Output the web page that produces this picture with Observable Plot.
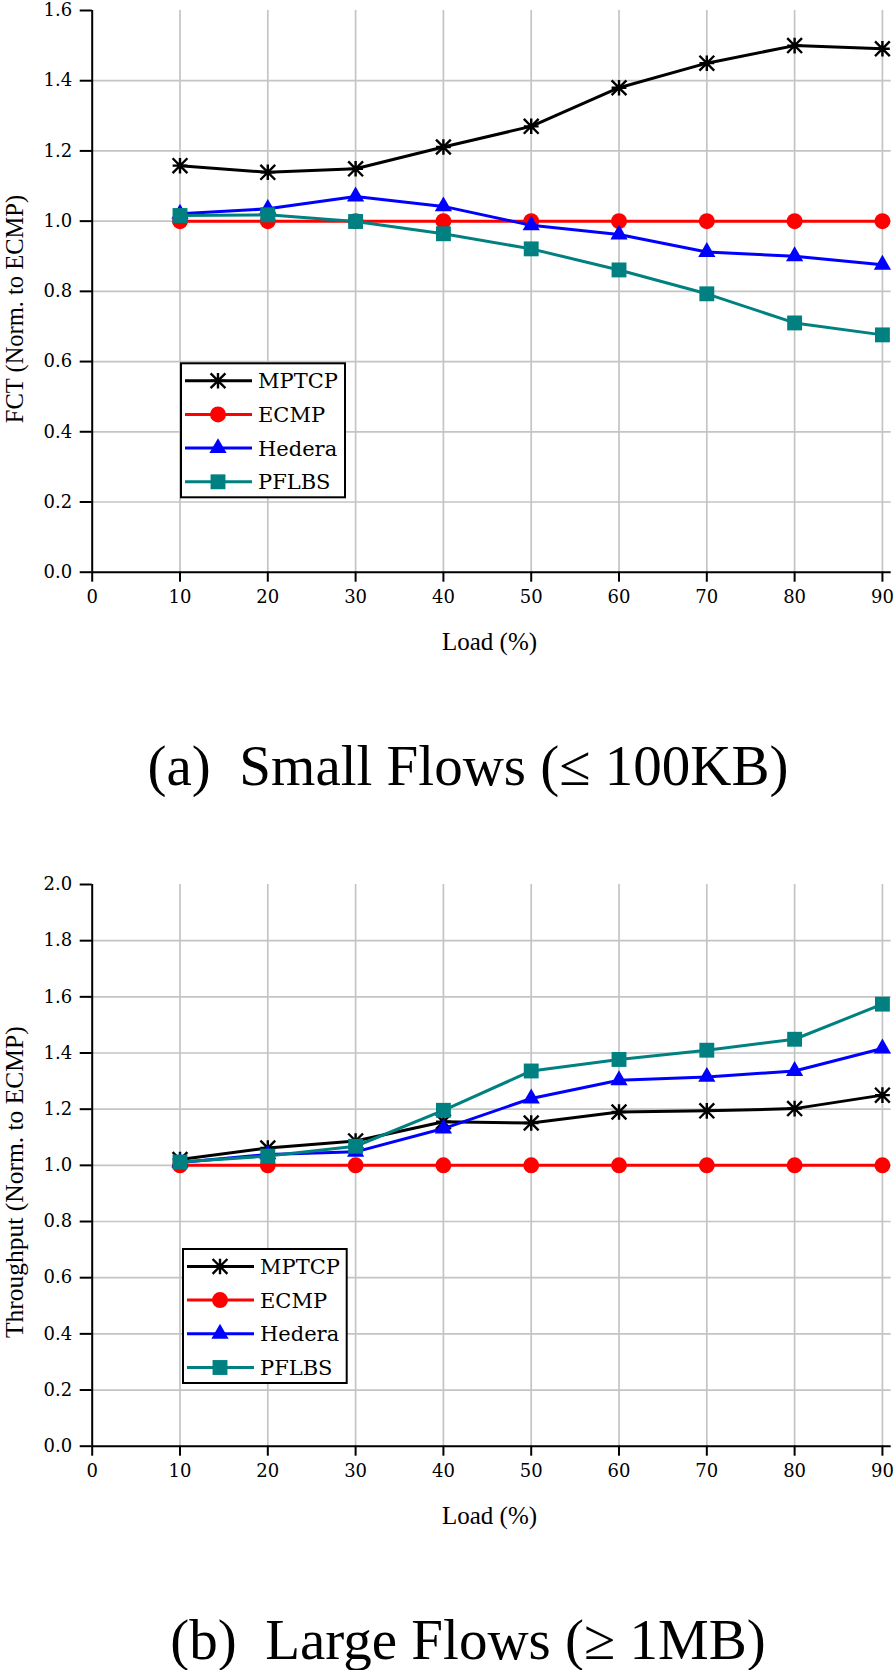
<!DOCTYPE html>
<html><head><meta charset="utf-8">
<script src="https://cdn.jsdelivr.net/npm/d3@7"></script>
<script src="https://cdn.jsdelivr.net/npm/@observablehq/plot@0.6"></script>
<style>
body{margin:0;background:#fff;}
#wrap{position:relative;width:894px;height:1670px;overflow:hidden;background:#fff;}
#wrap svg{position:absolute;left:0;}
</style></head><body><div id="wrap"></div>
<script>
const loads = [10, 20, 30, 40, 50, 60, 70, 80, 90];
const seriesNames = ["MPTCP", "ECMP", "Hedera", "PFLBS"];
const seriesColors = ["#000000", "#ff0000", "#0000ff", "#008080"];
const seriesSymbols = ["star", "circle", "triangle", "square"];

// (a) FCT normalized to ECMP
const fctMPTCP  = [1.158, 1.139, 1.149, 1.211, 1.270, 1.380, 1.450, 1.500, 1.491];
const fctECMP   = [1.0, 1.0, 1.0, 1.0, 1.0, 1.0, 1.0, 1.0, 1.0];
const fctHedera = [1.021, 1.035, 1.070, 1.042, 0.988, 0.962, 0.912, 0.900, 0.876];
const fctPFLBS  = [1.016, 1.018, 0.999, 0.964, 0.921, 0.861, 0.793, 0.710, 0.676];

// (b) Throughput normalized to ECMP
const tpMPTCP  = [1.021, 1.062, 1.087, 1.155, 1.151, 1.190, 1.194, 1.202, 1.250];
const tpECMP   = [1.0, 1.0, 1.0, 1.0, 1.0, 1.0, 1.0, 1.0, 1.0];
const tpHedera = [1.010, 1.039, 1.048, 1.131, 1.238, 1.303, 1.315, 1.336, 1.416];
const tpPFLBS  = [1.012, 1.033, 1.068, 1.196, 1.336, 1.377, 1.410, 1.449, 1.574];

const xTicks = [0, 10, 20, 30, 40, 50, 60, 70, 80, 90];
const yTicksFct = [0, 0.2, 0.4, 0.6, 0.8, 1.0, 1.2, 1.4, 1.6];
const yTicksTp = [0, 0.2, 0.4, 0.6, 0.8, 1.0, 1.2, 1.4, 1.6, 1.8, 2.0];

const yLabelFct = "FCT (Norm. to ECMP)";
const yLabelTp = "Throughput (Norm. to ECMP)";
const xLabel = "Load (%)";
const captionA = "(a)\u2002Small Flows (\u2264 100KB)";
const captionB = "(b)\u2002Large Flows (\u2265 1MB)";

// 8-arm asterisk marker (X + plus)
const starSymbol = {
  draw(context, size) {
    const a = Math.sqrt(size / Math.PI);
    context.moveTo(-a, -a); context.lineTo(a, a);
    context.moveTo(-a, a); context.lineTo(a, -a);
    context.moveTo(0, -a * 1.05); context.lineTo(0, a * 1.05);
    context.moveTo(-a, 0); context.lineTo(a, 0);
  }
};

const markerR = {star: 7.4, circle: 8, triangle: 6.4, square: 8.4};
const d3Sym = {star: starSymbol, circle: d3.symbolCircle, triangle: d3.symbolTriangle, square: d3.symbolSquare};

function rows(arr, name) { return loads.map((x, i) => ({load: x, value: arr[i], series: name})); }

function makeChart(cfg) {
  const W = 894, H = 796, mTop = 10, mBottom = 224.3, mLeft = 91.7, mRight = 3.3;
  const yMax = cfg.yTicks[cfg.yTicks.length - 1];
  const marks = [
    Plot.gridX(xTicks.filter(d => d > 0), {stroke: "#c4c4c4", strokeOpacity: 1, strokeWidth: 1.7}),
    Plot.gridY(cfg.yTicks.filter(d => d > 0 && d < yMax), {stroke: "#c4c4c4", strokeOpacity: 1, strokeWidth: 1.7})
  ];
  cfg.data.forEach((arr, k) => {
    const d = rows(arr, seriesNames[k]);
    const sym = seriesSymbols[k];
    marks.push(Plot.line(d, {x: "load", y: "value", stroke: seriesColors[k], strokeWidth: 3}));
    if (sym === "star") {
      marks.push(Plot.dot(d, {x: "load", y: "value", symbol: d3Sym[sym], r: markerR[sym], fill: "none", stroke: seriesColors[k], strokeWidth: 2.4}));
    } else {
      marks.push(Plot.dot(d, {x: "load", y: "value", symbol: d3Sym[sym], r: markerR[sym], fill: seriesColors[k], stroke: "none"}));
    }
  });
  marks.push(
    Plot.ruleX([0], {stroke: "black", strokeWidth: 2}),
    Plot.ruleY([0], {stroke: "black", strokeWidth: 2}),
    Plot.axisY(cfg.yTicks, {tickSize: 12, tickPadding: 8, tickFormat: d3.format(".1f"), strokeWidth: 2, label: null, fontSize: 18}),
    Plot.axisX(xTicks, {tickSize: 10, tickPadding: 8, tickFormat: d3.format("d"), strokeWidth: 2, label: null, fontSize: 18})
  );
  const svg = Plot.plot({
    width: W, height: H,
    marginTop: mTop, marginBottom: mBottom, marginLeft: mLeft, marginRight: mRight,
    x: {domain: [0, 91]},
    y: {domain: [0, yMax]},
    style: {fontFamily: "'DejaVu Serif', serif", fontSize: "18px", color: "black", background: "white", overflow: "visible"},
    marks
  });
  svg.style.top = cfg.top + "px";
  const s = d3.select(svg);
  const serif = "'Liberation Serif', 'Times New Roman', serif";
  // y label
  s.append("text")
    .attr("transform", `translate(23,${cfg.yLabelY}) rotate(-90)`)
    .attr("text-anchor", "middle")
    .attr("font-family", serif).attr("font-size", cfg.yLabelSize)
    .attr("fill", "black").text(cfg.yLabel);
  // x label
  s.append("text").attr("x", 489.5).attr("y", 650)
    .attr("text-anchor", "middle").attr("font-family", serif).attr("font-size", 25)
    .attr("fill", "black").text(xLabel);
  // caption
  s.append("text").attr("x", 468).attr("y", 785)
    .attr("text-anchor", "middle").attr("font-family", serif).attr("font-size", 57)
    .attr("fill", "black").text(cfg.caption);
  // legend
  const L = cfg.legend;
  const g = s.append("g").attr("text-anchor", "start");
  g.append("rect").attr("x", L.x0).attr("y", L.y0).attr("width", L.x1 - L.x0).attr("height", L.y1 - L.y0)
    .attr("fill", "white").attr("stroke", "black").attr("stroke-width", 2);
  seriesNames.forEach((name, k) => {
    const ry = L.y0 + 17.4 + k * 33.7;
    const sym = seriesSymbols[k];
    g.append("line").attr("x1", L.x0 + 4).attr("x2", L.x0 + 71).attr("y1", ry).attr("y2", ry)
      .attr("stroke", seriesColors[k]).attr("stroke-width", 3);
    const p = d3.symbol().type(d3Sym[sym]).size(Math.PI * markerR[sym] * markerR[sym])();
    const path = g.append("path").attr("d", p).attr("transform", `translate(${L.x0 + 37},${ry})`);
    if (sym === "star") path.attr("fill", "none").attr("stroke", seriesColors[k]).attr("stroke-width", 2.4);
    else path.attr("fill", seriesColors[k]);
    g.append("text").attr("x", L.x0 + 77).attr("y", ry + 7.6)
      .attr("text-anchor", "start")
      .attr("font-family", "'DejaVu Serif', serif").attr("font-size", 21)
      .attr("fill", "black").text(name);
  });
  document.getElementById("wrap").appendChild(svg);
}

makeChart({
  top: 0, data: [fctMPTCP, fctECMP, fctHedera, fctPFLBS], yTicks: yTicksFct,
  yLabel: yLabelFct, yLabelSize: 24.5, yLabelY: 309, caption: captionA,
  legend: {x0: 181, x1: 345, y0: 363.3, y1: 497.3}
});
makeChart({
  top: 874.3, data: [tpMPTCP, tpECMP, tpHedera, tpPFLBS], yTicks: yTicksTp,
  yLabel: yLabelTp, yLabelSize: 25.5, yLabelY: 308.2, caption: captionB,
  legend: {x0: 183, x1: 346.7, y0: 375, y1: 509}
});
</script></body></html>
